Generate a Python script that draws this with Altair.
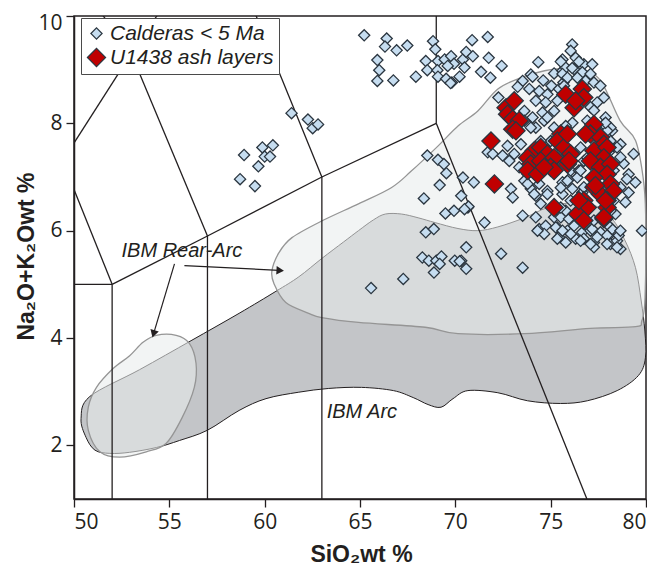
import altair as alt
import pandas as pd

# ---------------- data ----------------
calderas_x = [61.41, 62.27, 62.52, 62.80, 58.92, 59.88, 60.43, 60.00, 60.28, 59.67, 58.71, 59.49,
              65.22, 66.40, 66.31, 66.92, 67.48, 65.91, 66.01, 65.91, 66.75, 67.93, 68.45, 68.53,
              68.83, 68.95, 69.09, 69.06, 69.09, 69.44, 69.52, 69.78, 69.82, 69.93, 70.22, 70.40,
              70.48, 70.57, 70.92, 70.88, 71.70, 71.35, 71.75, 71.84, 72.43, 74.35, 69.60, 69.75,
              73.53, 73.96, 73.27, 73.88, 74.40, 74.61, 75.18, 75.62, 75.04, 74.83, 75.44, 74.22,
              74.74, 75.35, 75.18, 74.57, 74.05, 73.62, 72.26, 74.22, 74.66, 75.67, 76.13, 76.05,
              76.31, 75.62, 76.74, 77.18, 75.79, 76.23, 76.66, 77.09, 75.62, 75.88, 76.40, 76.83,
              77.27, 77.61, 77.79, 77.44, 77.09, 77.88, 75.70, 77.79, 78.22, 76.92, 74.05, 77.27,
              78.14, 78.22, 78.66, 79.09, 78.92,
              71.70, 71.96, 72.74, 72.48, 72.83, 73.09, 73.35, 73.79, 73.62, 73.96, 74.40, 72.92,
              73.01, 74.22, 74.48, 74.83, 75.18, 75.62, 73.53, 71.53, 74.40, 74.74, 74.66, 75.35,
              75.44,
              70.40, 70.97, 70.31, 70.66, 70.57, 72.40, 70.31, 70.57, 73.53, 74.31, 75.27, 75.35,
              75.79, 75.88, 76.31, 76.23, 76.66, 77.09, 77.27, 77.61, 78.05, 78.14, 78.48, 78.66,
              78.57, 79.79,
              79.35, 79.44, 79.00, 79.09, 78.83, 78.66, 78.48, 78.31, 78.40, 78.14, 78.22, 77.96,
              77.18, 77.44, 76.74, 76.05, 75.62, 75.53, 75.96, 75.79, 75.62, 75.96, 75.62, 76.05,
              76.48, 76.40, 76.14, 76.66, 76.74, 77.96, 78.14, 78.05, 76.14, 77.88,
              68.35, 69.18, 69.53, 70.69, 70.48, 69.48, 69.93, 68.45, 68.87, 68.27, 68.61, 69.00,
              69.27, 69.18, 68.88, 69.97, 70.23, 67.27, 65.58, 68.53, 69.09, 69.40,
              75.53, 76.13, 76.48, 78.66, 78.48, 77.27, 76.57, 74.22, 73.62, 73.96, 74.83, 75.18,
              75.79, 77.27, 77.61, 73.44, 73.79, 74.14, 74.83, 75.53, 75.88, 76.57, 76.74, 76.57,
              76.05, 75.53, 76.57, 77.27, 77.96, 78.31, 78.66, 75.35, 75.53, 76.23, 76.57, 76.92,
              75.00, 74.48, 74.66, 77.09, 77.96]
calderas_y = [8.19, 8.07, 7.91, 7.98, 7.41, 7.55, 7.59, 7.38, 7.38, 7.20, 6.96, 6.83,
              9.64, 9.58, 9.43, 9.36, 9.45, 9.18, 8.99, 8.79, 8.80, 8.87, 9.16, 8.99,
              9.53, 9.38, 9.16, 8.99, 8.87, 9.19, 8.83, 9.25, 8.76, 9.11, 8.87, 9.19,
              9.04, 9.33, 9.25, 9.55, 9.61, 8.96, 9.22, 8.85, 9.07, 9.14, 9.07, 8.75,
              8.79, 8.91, 8.68, 8.64, 8.60, 8.80, 8.93, 8.98, 8.70, 8.54, 8.64, 8.42,
              8.39, 8.42, 8.23, 8.20, 8.11, 8.23, 8.48, 7.92, 8.05, 8.76, 9.47, 9.35,
              9.22, 9.19, 9.10, 9.10, 9.04, 9.01, 8.95, 8.92, 8.92, 8.85, 8.85, 8.79,
              8.76, 8.70, 8.48, 8.39, 8.30, 8.11, 8.70, 7.98, 7.86, 8.05, 8.87, 8.24,
              7.92, 7.55, 7.61, 7.05, 6.53,
              7.46, 7.43, 7.58, 7.40, 7.30, 7.43, 7.18, 7.05, 6.93, 6.78, 6.87, 6.78,
              6.62, 6.65, 6.50, 6.74, 6.25, 6.37, 6.28, 6.15, 6.03, 6.09, 5.94, 6.06,
              5.88,
              6.99, 6.90, 6.65, 6.43, 5.69, 5.57, 5.44, 5.29, 5.31, 6.00, 6.06, 5.85,
              5.78, 6.00, 5.85, 6.09, 5.97, 6.00, 5.78, 5.97, 5.91, 5.75, 5.81, 5.66,
              5.91, 6.00,
              7.43, 6.90, 6.96, 6.71, 7.25, 7.37, 7.55, 7.12, 6.31, 6.37, 6.03, 5.91,
              6.03, 5.88, 5.85, 5.94, 6.00, 6.25, 6.22, 6.37, 6.68, 6.96, 6.90, 7.12,
              7.12, 6.99, 6.78, 6.71, 7.30, 7.86, 7.67, 7.46, 8.01, 8.01,
              6.60, 6.85, 7.07, 6.45, 6.40, 6.32, 6.37, 5.97, 6.03, 5.50, 5.44, 5.44,
              5.52, 5.38, 5.22, 5.44, 5.43, 5.10, 4.93, 7.40, 7.32, 7.24,
              9.15, 9.03, 9.15, 6.00, 5.69, 5.69, 5.81, 6.25, 8.05, 7.92, 8.11, 7.92,
              7.95, 7.80, 7.67, 7.61, 6.87, 6.68, 6.68, 6.80, 6.93, 7.12, 6.81, 6.56,
              6.56, 6.43, 6.25, 6.19, 6.12, 6.56, 6.81, 7.36, 7.61, 7.43, 7.55, 7.36,
              7.67, 7.67, 7.49, 5.75, 5.75]

ash_x = [72.66, 73.09, 72.74, 73.01, 73.35, 73.01, 75.79, 76.66, 76.74, 76.23, 76.31, 71.87,
         72.05, 75.18, 75.53, 77.27, 77.09, 77.61, 77.79, 74.14, 73.79, 74.48, 74.83, 75.35,
         75.70, 76.05, 73.96, 74.48, 75.18, 75.88, 73.79, 74.31, 75.00, 75.18, 77.27, 77.96,
         77.79, 77.09, 77.61, 78.14, 77.96, 77.27, 78.14, 77.27, 77.61, 78.31, 77.96, 76.74,
         76.92, 76.40, 76.74, 77.79, 77.96, 75.88, 76.83, 75.96, 77.35, 77.88, 76.48, 77.79,
         74.66, 73.18]
ash_y = [8.29, 8.42, 8.17, 8.08, 8.05, 7.89, 8.54, 8.64, 8.48, 8.29, 8.42, 7.67,
         6.87, 6.43, 7.80, 7.98, 7.80, 7.74, 7.61, 7.49, 7.36, 7.55, 7.43, 7.67,
         7.55, 7.43, 7.24, 7.30, 7.36, 7.24, 7.12, 7.05, 7.18, 7.12, 7.49, 7.55,
         7.36, 7.30, 7.18, 7.24, 7.05, 6.99, 6.87, 6.81, 6.68, 6.74, 6.56, 6.56,
         6.43, 6.31, 6.19, 6.22, 6.43, 7.80, 7.80, 7.30, 6.84, 6.56, 6.56, 6.25,
         7.18, 7.86]

groups = ["Calderas < 5 Ma", "U1438 ash layers"]

# IBM Arc field outline
arc_x = [50.37, 50.83, 53.44, 56.14, 58.66, 60.59, 61.79, 62.99, 64.14, 64.92, 65.70, 66.33,
         67.17, 68.05, 68.94, 70.14, 71.18, 72.23, 73.63, 74.83, 76.14, 77.44, 78.23, 78.91,
         79.45, 79.75, 79.94, 79.97, 79.60, 78.49, 76.92, 75.51, 73.79, 72.23, 70.66, 69.88,
         69.25, 68.57, 67.79, 66.75, 65.08, 63.36, 61.79, 60.07, 58.66, 56.99, 55.53, 54.33,
         52.92, 51.88, 51.10, 50.63]
arc_y = [2.50, 2.91, 3.41, 3.95, 4.46, 4.87, 5.14, 5.48, 5.79, 6.00, 6.20, 6.31,
         6.31, 6.24, 6.15, 6.04, 6.00, 6.07, 6.24, 6.43, 6.52, 6.45, 6.22, 5.81,
         5.31, 4.69, 4.13, 3.63, 3.30, 3.02, 2.83, 2.78, 2.83, 2.98, 3.02, 2.87,
         2.71, 2.76, 2.89, 3.02, 3.08, 3.06, 2.99, 2.87, 2.65, 2.28, 2.09, 1.96,
         1.87, 1.85, 1.91, 2.15]

# IBM Rear-Arc fields
rear_x = [60.38, 60.75, 61.43, 62.99, 64.92, 66.64, 67.69, 69.10, 70.14, 71.18, 72.23, 73.43,
          74.68, 75.88, 76.92, 77.70, 78.64, 79.45, 79.85, 79.98, 79.95, 79.78, 79.45, 77.08,
          73.63, 70.14, 68.42, 64.92, 62.99, 62.31, 61.11, 60.49]
rear_y = [5.25, 5.59, 5.87, 6.18, 6.50, 6.80, 7.11, 7.58, 7.95, 8.23, 8.64, 8.85,
          8.98, 9.03, 8.98, 8.75, 8.05, 7.68, 6.99, 6.31, 4.75, 4.32, 4.21, 4.18,
          4.08, 4.08, 4.20, 4.29, 4.38, 4.46, 4.66, 5.01]
rear2_x = [54.31, 55.36, 56.05, 56.40, 56.31, 55.69, 54.84, 53.79, 52.40, 51.36, 50.75, 50.75,
           51.18, 52.05, 52.92, 53.62]
rear2_y = [4.05, 4.05, 3.90, 3.53, 3.08, 2.53, 2.04, 1.88, 1.78, 1.88, 2.28, 2.71,
           3.08, 3.43, 3.67, 3.92]

# TAS classification boundaries (segments)
tas_x1 = [45.0, 52.0, 57.0, 63.0, 52.0, 57.0, 63.0, 69.0, 69.0, 52.0, 49.4, 53.0, 53.0, 53.0, 57.6]
tas_y1 = [5.0, 1.0, 1.0, 1.0, 5.0, 5.9, 7.0, 8.0, 8.0, 5.0, 7.3, 9.3, 9.3, 9.3, 11.7]
tas_x2 = [52.0, 52.0, 57.0, 63.0, 57.0, 63.0, 69.0, 76.9, 69.0, 49.4, 53.0, 48.4, 57.6, 57.0, 63.0]
tas_y2 = [5.0, 5.0, 5.9, 7.0, 5.9, 7.0, 8.0, 1.0, 13.0, 7.3, 9.3, 11.5, 11.7, 5.9, 7.0]

# annotations
label_text = ["IBM Rear-Arc", "IBM Arc"]
label_x = [55.66, 65.10]
label_y = [5.62, 2.63]
arrow_x1 = [55.27, 55.79]
arrow_y1 = [5.38, 5.35]
arrow_x2 = [54.19, 60.75]
arrow_y2 = [4.10, 5.26]
arrow_angle = [196.6, 92.9]

x_ticks = [50, 55, 60, 65, 70, 75, 80]
y_ticks = [2, 4, 6, 8, 10]

# ---------------- tables ----------------
pts = pd.DataFrame({
    "x": calderas_x + ash_x,
    "y": calderas_y + ash_y,
    "group": [groups[0]] * len(calderas_x) + [groups[1]] * len(ash_x),
})
pts["i"] = range(len(pts))

def poly(xs, ys):
    d = pd.DataFrame({"x": xs, "y": ys})
    d["i"] = range(len(d))
    return d

tas = pd.DataFrame({"x": tas_x1, "y": tas_y1, "x2": tas_x2, "y2": tas_y2})
labels = pd.DataFrame({"x": label_x, "y": label_y, "t": label_text})
arrows = pd.DataFrame({"x": arrow_x1, "y": arrow_y1, "x2": arrow_x2, "y2": arrow_y2})
heads = pd.DataFrame({"x": arrow_x2, "y": arrow_y2, "a": arrow_angle})

ink = "#231f20"
xs = alt.Scale(domain=[50, 80], nice=False, zero=False)
ys = alt.Scale(domain=[1, 10], nice=False, zero=False)
X = alt.X("x:Q", scale=xs, axis=alt.Axis(
    values=x_ticks, title="SiO₂wt %", titleFontSize=23,
    titleX=287, titleY=62, titleBaseline="alphabetic", titleAlign="center"))
Y = alt.Y("y:Q", scale=ys, axis=alt.Axis(
    values=y_ticks, title="Na₂O+K₂Owt %", titleFontSize=23,
    titleX=-41, titleY=240, titleBaseline="alphabetic", titleAlign="center", titleAngle=270,
    labelFlush=True, labelFlushOffset=4))

arc = alt.Chart(poly(arc_x, arc_y)).mark_line(
    interpolate="cardinal-closed", fill="#c3c5c8", stroke=ink, strokeWidth=1
).encode(x=X, y=Y, order="i:Q")

rear = alt.Chart(poly(rear_x, rear_y)).mark_line(
    interpolate="cardinal-closed", fill="#e9ebeb", fillOpacity=0.57, stroke="#959595", strokeWidth=1.3
).encode(x=X, y=Y, order="i:Q")

rear2 = alt.Chart(poly(rear2_x, rear2_y)).mark_line(
    interpolate="cardinal-closed", fill="#e9ebeb", fillOpacity=0.57, stroke="#959595", strokeWidth=1.3
).encode(x=X, y=Y, order="i:Q")

lines = alt.Chart(tas).mark_rule(color=ink, strokeWidth=1.3, clip=True).encode(
    x=X, y=Y, x2="x2:Q", y2="y2:Q")

arrow_lines = alt.Chart(arrows).mark_rule(color=ink, strokeWidth=1.2).encode(
    x=X, y=Y, x2="x2:Q", y2="y2:Q")
arrow_heads = alt.Chart(heads).mark_point(
    shape="triangle", filled=True, color=ink, size=75, opacity=1
).encode(x=X, y=Y, angle=alt.Angle("a:Q", scale=None))

texts = alt.Chart(labels).mark_text(
    font="Liberation Sans", fontSize=20, fontStyle="italic", color=ink, align="center", baseline="middle"
).encode(x=X, y=Y, text="t:N")

leg = alt.Legend(
    title=None, orient="none", legendX=7, legendY=2, fillColor="white", strokeColor="#4a4a4a",
    padding=5, labelFont="Liberation Sans", labelFontSize=21, labelFontStyle="italic",
    labelColor=ink, labelLimit=400, symbolType="diamond", symbolStrokeColor="#2b3640",
    symbolStrokeWidth=1.2, rowPadding=2, labelOffset=3,
)
points = alt.Chart(pts).mark_point(
    shape="diamond", filled=True, stroke="#2b3640", strokeWidth=1.3, opacity=1
).encode(
    x=X, y=Y,
    color=alt.Color("group:N", scale=alt.Scale(domain=groups, range=["#c6ddf0", "#c00000"]), legend=leg),
    size=alt.Size("group:N", scale=alt.Scale(domain=groups, range=[125, 330]), legend=leg),
    order="i:Q",
)

chart = alt.layer(arc, rear, rear2, lines, arrow_lines, arrow_heads, texts, points).properties(
    width=572, height=483,
    autosize=alt.AutoSizeParams(type="none"),
    padding={"left": 66, "top": 8, "right": 1, "bottom": 66},
).configure_view(stroke=ink, strokeWidth=1.5).configure_axis(
    grid=False, domainColor=ink, domainWidth=1.5, tickColor=ink, tickWidth=1.3, tickSize=8,
    labelFont="Open Sans", labelFontSize=21, labelColor=ink, labelPadding=4,
    titleFont="Liberation Sans", titleFontWeight="bold", titleColor=ink,
    labelOverlap=False,
)

chart.save("out.html", embed_options={"renderer": "svg", "actions": False})
